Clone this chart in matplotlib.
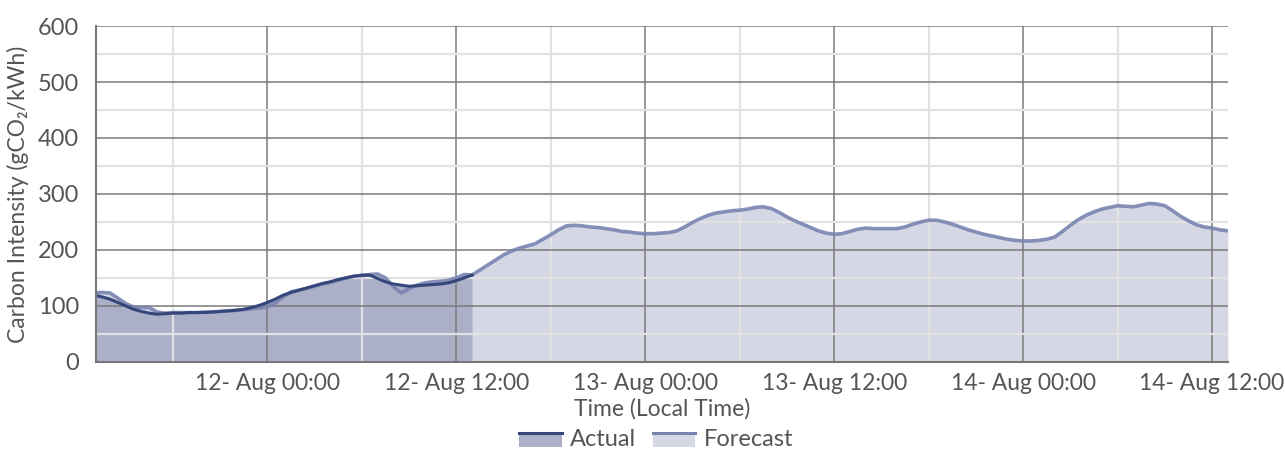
import numpy as np
import pandas as pd
import matplotlib
matplotlib.use("Agg")
import matplotlib.pyplot as plt
import matplotlib.dates as mdates
from matplotlib.patches import Rectangle
from matplotlib.lines import Line2D
from matplotlib.legend_handler import HandlerBase

plt.rcParams['font.family'] = ['Lato', 'DejaVu Sans']

# half-hourly carbon intensity, gCO2/kWh, starting 11 Aug 13:00
start = "2023-08-11 13:00"
forecast = [
    123, 124, 123, 114, 104, 98, 97, 97, 89, 87, 88, 88, 88, 88, 89, 89,
    90, 91, 92, 93, 95, 96, 98, 105, 116, 125, 128, 131, 135, 139, 142, 146,
    150, 153, 154, 156, 157, 150, 134, 123, 131, 137, 141, 143, 144, 146, 150, 156,
    155, 164, 173, 182, 191, 198, 203, 207, 211, 219, 227, 236, 243, 244, 243, 241,
    240, 238, 236, 233, 232, 230, 229, 229, 230, 231, 234, 241, 249, 256, 262, 266,
    268, 270, 271, 273, 276, 277, 274, 267, 259, 252, 246, 240, 234, 230, 228, 229,
    233, 237, 239, 238, 238, 238, 238, 241, 246, 250, 253, 253, 250, 246, 241, 236,
    232, 228, 225, 222, 219, 217, 216, 216, 217, 219, 223, 233, 244, 254, 262, 268,
    273, 276, 279, 278, 277, 280, 283, 282, 279, 270, 260, 252, 245, 241, 239, 236,
    234,
]
actual = [
    119, 116, 112, 106, 100, 94, 90, 87, 85, 86, 87, 87, 88, 88, 88, 89,
    90, 91, 92, 94, 97, 101, 106, 112, 119, 124, 128, 132, 136, 140, 143, 147,
    150, 153, 155, 155, 149, 143, 139, 137, 135, 136, 137, 138, 139, 141, 145, 150,
    155,
]
y_ticks = [0, 100, 200, 300, 400, 500, 600]

t_fc = pd.date_range(start, periods=len(forecast), freq="30min")
t_ac = pd.date_range(start, periods=len(actual), freq="30min")

c_act_fill = "#abafc8"
c_act_line = "#34467a"
c_fc_fill = "#d5d7e4"
c_fc_line = "#7883b0"
c_text = "#555555"


class FillLineHandler(HandlerBase):
    # legend swatch: filled box with the series line along its top edge
    def __init__(self, fill, line):
        super().__init__()
        self.fill, self.line = fill, line

    def create_artists(self, legend, orig_handle, xdescent, ydescent,
                       width, height, fontsize, trans):
        r = Rectangle((-xdescent, -ydescent), width, height * 0.8,
                      facecolor=self.fill, edgecolor="none", transform=trans)
        ln = Line2D([-xdescent, -xdescent + width],
                    [-ydescent + height * 0.8] * 2,
                    color=self.line, lw=2.2, transform=trans)
        return [r, ln]


fig = plt.figure(figsize=(12.85, 4.5), dpi=100)
ax = fig.add_axes([0.0745, 0.196, 0.881, 0.746])

ax.fill_between(t_fc, forecast, color=c_fc_fill, lw=0, zorder=1)
ax.fill_between(t_ac, actual, color=c_act_fill, lw=0, zorder=1.5)
ax.plot(t_fc, forecast, color=c_fc_line, lw=2.6, alpha=0.9, zorder=3)
ax.plot(t_ac, actual, color=c_act_line, lw=2.2, zorder=4)

t0 = pd.Timestamp("2023-08-12 00:00")
ax.set_xlim(t0 - pd.Timedelta(hours=10.9), t_fc[-1])
ax.set_ylim(0, 600)
ax.set_yticks(y_ticks)
ax.yaxis.set_minor_locator(plt.MultipleLocator(50))
ax.xaxis.set_major_locator(mdates.HourLocator(byhour=[0, 12]))
ax.xaxis.set_minor_locator(mdates.HourLocator(byhour=[6, 18]))
ax.xaxis.set_major_formatter(mdates.DateFormatter("%d- %b %H:%M"))

ax.set_axisbelow(False)
ax.grid(which="major", color="#7a7a7a", lw=1.1, zorder=2)
ax.grid(which="minor", color="#e2e2e2", lw=1.6, zorder=1.8)

for s in ["top", "right"]:
    ax.spines[s].set_visible(False)
for s in ["left", "bottom"]:
    ax.spines[s].set_color("#777777")
    ax.spines[s].set_linewidth(1.5)
    ax.spines[s].set_zorder(5)

ax.tick_params(which="both", length=0)
ax.tick_params(axis="y", pad=12, labelsize=17, labelcolor=c_text)
ax.tick_params(axis="x", pad=8, labelsize=16.5, labelcolor=c_text)

ax.set_ylabel("Carbon Intensity (gCO\u2082/kWh)", fontsize=16.5, color=c_text, labelpad=6)
ax.set_xlabel("Time (Local Time)", fontsize=16.5, color=c_text, labelpad=3)

h_act = Rectangle((0, 0), 1, 1)
h_fc = Rectangle((0, 0), 1, 1)
ax.legend([h_act, h_fc], ["Actual", "Forecast"],
          handler_map={h_act: FillLineHandler(c_act_fill, c_act_line),
                       h_fc: FillLineHandler(c_fc_fill, c_fc_line)},
          loc="center", bbox_to_anchor=(0.495, -0.232), ncol=2, frameon=False,
          fontsize=17, labelcolor=c_text, handlelength=1.8, handleheight=0.8,
          handletextpad=0.35, columnspacing=0.7, borderpad=0.2)

fig.savefig("out.png", dpi=100)
